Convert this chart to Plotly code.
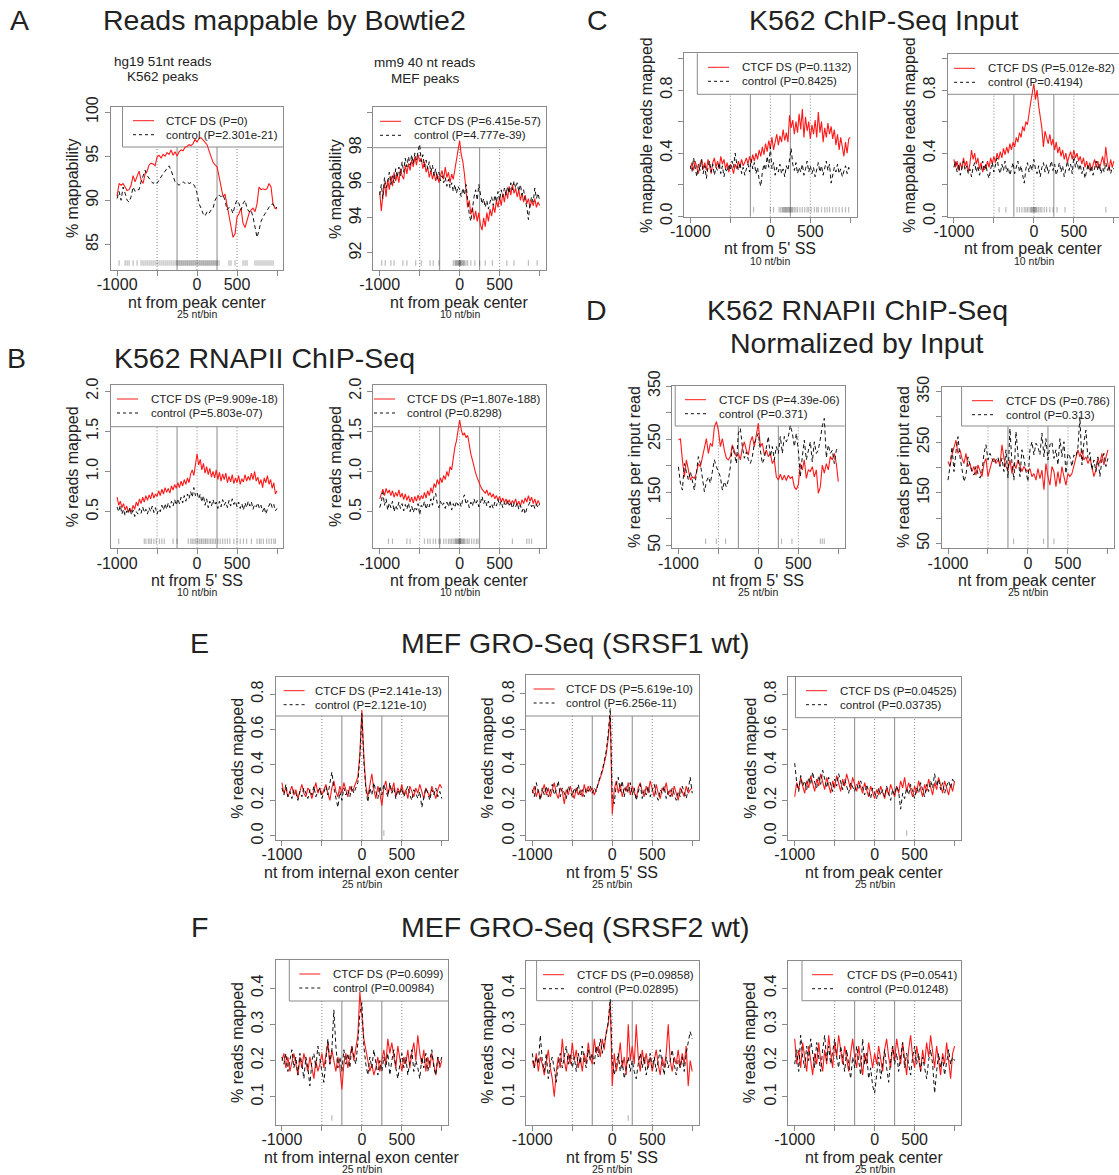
import plotly.graph_objects as go

W, H = 1119, 1175
FONT = "Liberation Sans, Arial, sans-serif"
INK = "#222222"
FRAME = "#8a8a8a"
RED = "#ff1a1a"

# bin centres (nt) for 25 nt/bin and 10 nt/bin profiles
BIN25 = list(range(-1000, 1001, 25))
BIN20 = list(range(-1000, 1001, 20))
X_TICKS = [-1000, -500, 0, 500, 1000]
X_TICKTEXT = ["-1000", "", "0", "500", ""]
SOLID_MARKS = [-250, 250]
DOTTED_MARKS = [-500, 0, 500]

# ---------------- A: mappability ----------------
A1_DS = [90.5, 91.9, 91.7, 91.9, 91.5, 91.1, 91.2, 91.7, 92.8, 92.1,
         92.7, 93.3, 92.3, 91.9, 93.0, 93.3, 94.0, 94.2, 94.1, 93.9,
         94.9, 95.1, 94.8, 95.2, 95.0, 95.4, 95.2, 95.7, 95.1, 95.5,
         95.0, 95.5, 95.7, 95.6, 96.0, 96.1, 96.3, 96.2, 96.4, 96.9,
         96.6, 97.0, 97.1, 96.8, 96.6, 96.3, 95.6, 94.9, 94.3, 94.0,
         93.8, 92.7, 91.3, 90.4, 90.7, 89.6, 88.1, 87.0, 85.8, 86.2,
         88.1, 88.5, 89.1, 87.4, 86.9, 87.8, 88.5, 88.9, 89.1, 88.7,
         89.6, 91.5, 91.2, 91.3, 91.2, 91.3, 91.9, 91.5, 89.6, 89.1,
         89.0]
A1_CTRL = [90.2, 91.0, 90.0, 91.5, 90.8, 90.0, 89.8, 90.4, 91.5, 91.0,
           91.2, 91.2, 92.1, 92.7, 93.4, 92.8, 92.5, 92.3, 91.9, 92.1,
           91.9, 92.3, 92.7, 93.0, 93.3, 93.6, 93.9, 93.4, 92.7, 92.1,
           91.9, 91.7, 91.9, 92.1, 91.9, 92.1, 91.9, 92.0, 91.9, 91.5,
           90.8, 89.6, 89.1, 88.5, 88.2, 88.7, 88.5, 88.9, 89.1, 90.0,
           90.4, 90.6, 90.4, 90.6, 90.0, 88.9, 89.2, 89.1, 88.5, 89.5,
           90.0, 89.6, 88.9, 89.6, 90.0, 89.1, 88.7, 88.9, 88.1, 87.0,
           85.8, 86.6, 87.6, 88.1, 88.5, 88.9, 89.2, 89.5, 89.6, 89.1,
           89.2]
A1_SITES = [-975, -900, -875, -850, -800, -750, -700, -675, -650, -625, -600,
            -575, -550, -525, -500, -475, -450, -425, -400, -375, -350, -325,
            -300, -275, -250, -250, -225, -225, -200, -200, -175, -175, -150,
            -150, -125, -125, -100, -100, -75, -75, -50, -50, -25, -25, 0, 0,
            25, 25, 50, 50, 75, 75, 100, 100, 125, 125, 150, 150, 175, 175,
            200, 200, 225, 225, 250, 250, 275, 400, 425, 475, 575, 600, 625,
            725, 750, 775, 800, 825, 850, 875, 900, 925, 950]

A2_DS = [95.5, 94.4, 95.3, 96.0, 95.2, 96.2, 95.6, 96.4, 95.8, 96.6,
         96.1, 96.5, 96.0, 96.8, 96.4, 96.2, 97.0, 96.5, 97.1, 96.7,
         97.3, 96.9, 97.5, 97.0, 97.6, 97.2, 97.4, 96.8, 97.2, 96.6,
         96.9, 96.3, 96.7, 96.2, 96.6, 96.1, 96.5, 96.0, 96.4, 96.7,
         96.2, 96.9, 96.3, 96.6, 96.0, 96.5, 96.2, 96.7, 97.2, 97.8,
         98.4, 97.6, 97.2, 96.5, 95.5, 94.6, 95.0, 94.2, 94.6, 93.9,
         94.4, 93.8, 94.3, 93.6, 93.3, 94.0, 93.5, 94.3, 93.8, 94.5,
         94.1, 94.7, 94.3, 95.0, 94.6, 95.2, 94.7, 95.4, 94.9, 95.6,
         95.1, 95.8, 95.3, 95.9, 95.4, 95.7, 95.2, 95.6, 95.0, 95.4,
         94.9, 95.3, 94.8, 95.1, 94.6, 95.0, 94.7, 95.1, 94.6, 94.9,
         94.7]
A2_CTRL = [95.3, 95.9, 95.1, 96.3, 95.7, 96.0, 96.6, 95.9, 96.4, 96.0,
           96.8, 96.3, 96.9, 96.4, 97.2, 96.6, 97.4, 96.9, 97.5, 97.0,
           97.6, 97.1, 97.7, 97.3, 97.8, 98.2, 97.2, 97.6, 96.9, 97.3,
           96.8, 97.2, 96.6, 97.0, 96.4, 96.8, 96.2, 96.6, 96.1, 96.4,
           96.0, 96.3, 95.8, 96.2, 95.7, 96.0, 95.5, 95.9, 95.4, 95.8,
           95.6, 95.2, 95.7, 95.3, 95.9, 95.1, 94.2, 93.8, 94.6, 95.2,
           95.6, 95.0, 95.9, 95.3, 94.8, 95.1, 94.6, 95.0, 94.5, 94.9,
           95.2, 94.7, 95.3, 94.9, 95.5, 95.0, 95.6, 95.2, 95.7, 95.3,
           95.8, 95.4, 96.0, 95.6, 96.1, 95.7, 96.0, 95.5, 95.9, 95.3,
           95.6, 95.0, 94.6, 93.9, 94.8, 95.2, 94.9, 95.7, 95.1, 95.4,
           95.0]
A2_SITES = [-975, -930, -860, -820, -710, -660, -550, -480, -370, -330, -260,
            -80, -60, -50, -40, -30, -20, -10, -10, 0, 0, 10, 10, 20, 30, 40,
            50, 60, 80, 100, 140, 190, 250, 320, 410, 590, 680, 860, 970]

# ---------------- B: RNAPII ChIP-Seq ----------------
B1_DS = [0.68, 0.58, 0.63, 0.55, 0.60, 0.52, 0.57, 0.49, 0.54, 0.50,
         0.58, 0.53, 0.62, 0.57, 0.66, 0.60, 0.68, 0.62, 0.70, 0.64,
         0.71, 0.66, 0.74, 0.67, 0.72, 0.69, 0.76, 0.70, 0.78, 0.72,
         0.80, 0.74, 0.79, 0.73, 0.82, 0.77, 0.84, 0.79, 0.86, 0.80,
         0.88, 0.82, 0.90, 0.84, 0.92, 0.86, 0.97, 1.02, 0.95, 1.10,
         1.22, 1.08, 1.15, 1.02, 1.10, 0.98, 1.06, 0.96, 1.04, 0.93,
         1.00, 0.92, 1.02, 0.90, 0.99, 0.88, 0.97, 0.90, 0.98, 0.86,
         0.94, 0.87, 0.96, 0.85, 0.92, 0.86, 0.95, 0.84, 0.91, 0.87,
         0.96, 0.88, 0.94, 0.89, 0.98, 0.90, 1.00, 0.88, 0.93, 0.84,
         0.90, 0.80, 0.92, 0.86, 0.95, 0.84, 0.90, 0.79, 0.86, 0.72,
         0.76]
B1_CTRL = [0.56, 0.50, 0.58, 0.47, 0.53, 0.45, 0.51, 0.48, 0.55, 0.46,
           0.52, 0.44, 0.50, 0.47, 0.54, 0.48, 0.56, 0.49, 0.53, 0.47,
           0.55, 0.50, 0.57, 0.49, 0.55, 0.47, 0.53, 0.50, 0.58, 0.52,
           0.60, 0.53, 0.61, 0.55, 0.63, 0.57, 0.65, 0.58, 0.66, 0.60,
           0.68, 0.61, 0.70, 0.63, 0.72, 0.66, 0.75, 0.68, 0.80, 0.70,
           0.74, 0.66, 0.72, 0.62, 0.70, 0.58, 0.66, 0.55, 0.63, 0.57,
           0.65, 0.58, 0.62, 0.54, 0.63, 0.56, 0.65, 0.58, 0.62, 0.55,
           0.64, 0.57, 0.66, 0.59, 0.63, 0.56, 0.62, 0.54, 0.60, 0.52,
           0.61, 0.55, 0.63, 0.57, 0.62, 0.53, 0.59, 0.56, 0.61, 0.54,
           0.58, 0.50, 0.56, 0.47, 0.53, 0.57, 0.62, 0.55, 0.59, 0.51,
           0.54]
B1_SITES = [-980, -660, -640, -610, -590, -570, -540, -510, -470, -440, -410,
            -300, -250, -110, -80, -60, -40, -20, 0, 10, 30, 50, 60, 80, 100,
            110, 130, 150, 170, 190, 210, 230, 260, 290, 320, 350, 380, 410,
            460, 500, 540, 580, 620, 680, 750, 780, 800, 830, 870, 900, 930,
            960, 980]

B2_DS = [0.66, 0.72, 0.78, 0.70, 0.79, 0.73, 0.77, 0.70, 0.76, 0.68,
         0.74, 0.69, 0.77, 0.68, 0.73, 0.65, 0.72, 0.64, 0.70, 0.62,
         0.68, 0.61, 0.69, 0.63, 0.71, 0.64, 0.70, 0.66, 0.74, 0.67,
         0.76, 0.70, 0.80, 0.73, 0.85, 0.80, 0.90, 0.84, 0.92, 0.86,
         0.95, 0.90, 1.00, 0.94, 1.06, 1.02, 1.18, 1.30, 1.38, 1.50,
         1.64, 1.52, 1.45, 1.48, 1.42, 1.45, 1.32, 1.22, 1.14, 1.05,
         0.98, 0.92, 0.86, 0.82, 0.78, 0.76, 0.73, 0.77, 0.70, 0.74,
         0.68, 0.72, 0.66, 0.70, 0.64, 0.69, 0.62, 0.67, 0.61, 0.66,
         0.60, 0.65, 0.59, 0.64, 0.60, 0.66, 0.58, 0.63, 0.57, 0.65,
         0.60, 0.67, 0.62, 0.70, 0.63, 0.68, 0.60, 0.66, 0.58, 0.64,
         0.60]
B2_CTRL = [0.55, 0.62, 0.74, 0.58, 0.66, 0.52, 0.61, 0.55, 0.63, 0.50,
           0.58, 0.53, 0.62, 0.54, 0.60, 0.51, 0.59, 0.53, 0.61, 0.50,
           0.57, 0.49, 0.56, 0.52, 0.60, 0.46, 0.58, 0.55, 0.63, 0.53,
           0.60, 0.56, 0.66, 0.58, 0.69, 0.73, 0.60, 0.55, 0.63, 0.57,
           0.61, 0.54, 0.62, 0.56, 0.64, 0.52, 0.60, 0.55, 0.63, 0.58,
           0.62, 0.56, 0.66, 0.71, 0.59, 0.64, 0.55, 0.62, 0.57, 0.66,
           0.59, 0.64, 0.56, 0.61, 0.69, 0.60, 0.65, 0.57, 0.63, 0.55,
           0.60, 0.54, 0.62, 0.57, 0.65, 0.58, 0.63, 0.55, 0.61, 0.57,
           0.64, 0.58, 0.62, 0.54, 0.60, 0.56, 0.61, 0.53, 0.58, 0.50,
           0.55, 0.47, 0.54, 0.58, 0.62, 0.56, 0.60, 0.54, 0.59, 0.55,
           0.60]
B2_SITES = [-890, -840, -660, -620, -440, -400, -370, -330, -300, -260, -240,
            -200, -170, -140, -120, -100, -80, -60, -50, -40, -30, -20, -10,
            -10, 0, 0, 10, 10, 20, 30, 40, 50, 60, 80, 100, 120, 150, 180,
            210, 230, 660, 840, 870, 900]

# ---------------- C: ChIP-Seq input ----------------
C1_DS = [0.30, 0.34, 0.29, 0.35, 0.31, 0.27, 0.33, 0.36, 0.30, 0.34,
         0.29, 0.36, 0.32, 0.27, 0.34, 0.37, 0.31, 0.35, 0.30, 0.38,
         0.33, 0.36, 0.30, 0.34, 0.28, 0.33, 0.31, 0.27, 0.33, 0.30,
         0.35, 0.31, 0.36, 0.32, 0.34, 0.37, 0.33, 0.38, 0.34, 0.39,
         0.35, 0.40, 0.36, 0.42, 0.38, 0.44, 0.39, 0.46, 0.41, 0.48,
         0.43, 0.50, 0.42, 0.47, 0.52, 0.45, 0.51, 0.47, 0.55, 0.48,
         0.53, 0.47, 0.64, 0.56, 0.61, 0.52, 0.60, 0.53, 0.65, 0.55,
         0.68, 0.50, 0.63, 0.54, 0.60, 0.49, 0.58, 0.52, 0.61, 0.50,
         0.66, 0.53, 0.60, 0.47, 0.56, 0.50, 0.59, 0.52, 0.57, 0.49,
         0.55, 0.45, 0.52, 0.42, 0.50, 0.44, 0.38, 0.47, 0.40, 0.49,
         0.50]
C1_CTRL = [0.32, 0.28, 0.37, 0.30, 0.25, 0.33, 0.29, 0.36, 0.27, 0.32,
           0.24, 0.31, 0.35, 0.28, 0.33, 0.26, 0.31, 0.29, 0.34, 0.27,
           0.32, 0.25, 0.30, 0.28, 0.33, 0.29, 0.35, 0.31, 0.40, 0.33,
           0.29, 0.34, 0.27, 0.31, 0.26, 0.30, 0.33, 0.28, 0.36, 0.30,
           0.34, 0.27, 0.31, 0.23, 0.19, 0.28, 0.33, 0.29, 0.38, 0.31,
           0.44, 0.30, 0.34, 0.26, 0.31, 0.28, 0.33, 0.27, 0.30, 0.25,
           0.32, 0.29, 0.36, 0.43, 0.33, 0.29, 0.34, 0.27, 0.31, 0.28,
           0.33, 0.26, 0.30, 0.35, 0.28, 0.32, 0.27, 0.31, 0.25, 0.30,
           0.34, 0.28, 0.32, 0.26, 0.30, 0.35, 0.29, 0.33, 0.21, 0.26,
           0.31, 0.28, 0.33, 0.27, 0.30, 0.25, 0.29, 0.32, 0.27, 0.31,
           0.29]
C1_SITES = [-210, 0, 40, 110, 130, 150, 160, 170, 180, 190, 200, 210, 220,
            230, 240, 250, 260, 270, 280, 300, 320, 340, 370, 400, 430, 460,
            480, 510, 550, 580, 600, 640, 680, 710, 740, 780, 820, 860, 900,
            940, 980]

C2_DS = [0.36, 0.31, 0.35, 0.29, 0.34, 0.30, 0.37, 0.32, 0.35, 0.28,
         0.33, 0.42, 0.36, 0.40, 0.33, 0.37, 0.30, 0.34, 0.28, 0.32,
         0.30, 0.35, 0.31, 0.37, 0.33, 0.38, 0.34, 0.40, 0.36, 0.41,
         0.37, 0.43, 0.39, 0.44, 0.40, 0.46, 0.42, 0.47, 0.44, 0.50,
         0.47, 0.53, 0.50, 0.57, 0.54, 0.60, 0.58, 0.66, 0.72, 0.78,
         0.84, 0.74, 0.80, 0.70, 0.62, 0.56, 0.44, 0.54, 0.50, 0.46,
         0.52, 0.45, 0.49, 0.42, 0.47, 0.40, 0.44, 0.38, 0.42, 0.36,
         0.40, 0.34, 0.38, 0.41, 0.36, 0.42, 0.37, 0.40, 0.35, 0.38,
         0.33, 0.37, 0.31, 0.35, 0.30, 0.34, 0.29, 0.33, 0.36, 0.31,
         0.35, 0.30, 0.34, 0.38, 0.32, 0.44, 0.35, 0.29, 0.36, 0.31,
         0.35]
C2_CTRL = [0.31, 0.35, 0.28, 0.33, 0.26, 0.31, 0.35, 0.29, 0.32, 0.27,
           0.30, 0.25, 0.31, 0.34, 0.28, 0.32, 0.26, 0.30, 0.35, 0.29,
           0.33, 0.27, 0.24, 0.30, 0.34, 0.28, 0.32, 0.37, 0.30, 0.27,
           0.33, 0.29, 0.35, 0.28, 0.31, 0.26, 0.30, 0.34, 0.27, 0.31,
           0.35, 0.28, 0.32, 0.26, 0.21, 0.30, 0.34, 0.28, 0.33, 0.29,
           0.36, 0.30, 0.27, 0.32, 0.25, 0.31, 0.34, 0.28, 0.33, 0.27,
           0.31, 0.35, 0.29, 0.33, 0.26, 0.30, 0.34, 0.28, 0.32, 0.25,
           0.30, 0.35, 0.29, 0.33, 0.27, 0.38, 0.31, 0.35, 0.29, 0.33,
           0.27, 0.31, 0.24, 0.29, 0.33, 0.28, 0.32, 0.26, 0.30, 0.35,
           0.29, 0.33, 0.27, 0.31, 0.28, 0.34, 0.29, 0.32, 0.27, 0.31,
           0.30]
C2_SITES = [-435, -350, -210, -180, -150, -120, -100, -80, -60, -40, -30,
            -20, -10, 0, 0, 10, 20, 30, 40, 60, 80, 100, 130, 160, 200, 240,
            290, 390, 900]

# ---------------- D: RNAPII normalised by input ----------------
D1_DS = [248, 251, 211, 179, 211, 192, 173, 179, 176, 186,
         204, 198, 214, 233, 251, 223, 242, 236, 273, 283,
         267, 236, 251, 229, 214, 211, 217, 239, 229, 217,
         223, 211, 233, 245, 229, 220, 245, 255, 236, 261,
         280, 236, 242, 220, 229, 217, 223, 204, 211, 179,
         173, 184, 173, 182, 172, 182, 176, 179, 160, 155,
         164, 204, 192, 211, 176, 192, 189, 198, 179, 192,
         148, 160, 201, 186, 204, 192, 217, 211, 223, 204,
         170]
D1_CTRL = [198, 167, 154, 204, 189, 173, 189, 170, 154, 186,
           217, 204, 179, 151, 170, 179, 167, 189, 211, 198,
           189, 179, 154, 170, 160, 173, 198, 236, 223, 204,
           261, 270, 236, 214, 226, 211, 204, 217, 242, 251,
           261, 229, 204, 214, 236, 255, 217, 236, 211, 236,
           223, 255, 223, 255, 245, 255, 276, 261, 236, 261,
           229, 179, 217, 248, 211, 229, 245, 207, 245, 223,
           230, 250, 275, 289, 215, 239, 223, 229, 204, 229,
           236]
D1_SITES = [-660, -525, -410, 290, 420, 775, 800, 825]

D2_DS = [212, 202, 225, 241, 254, 228, 235, 218, 208, 228,
         202, 208, 192, 202, 185, 205, 195, 182, 208, 218,
         182, 195, 212, 218, 208, 215, 205, 245, 218, 202,
         195, 215, 188, 208, 198, 215, 202, 192, 202, 195,
         192, 198, 182, 188, 175, 198, 178, 195, 156, 208,
         182, 165, 202, 192, 162, 192, 168, 202, 182, 165,
         188, 182, 188, 205, 221, 235, 221, 235, 215, 221,
         208, 218, 202, 182, 195, 218, 208, 228, 205, 218,
         235]
D2_CTRL = [175, 202, 241, 192, 231, 261, 221, 195, 172, 185,
           221, 205, 192, 185, 202, 188, 179, 192, 228, 245,
           215, 228, 218, 208, 215, 221, 202, 218, 192, 235,
           179, 277, 208, 175, 271, 221, 182, 235, 218, 192,
           172, 235, 251, 225, 248, 241, 225, 268, 221, 257,
           215, 245, 251, 218, 235, 205, 257, 221, 251, 188,
           228, 221, 202, 225, 221, 240, 300, 205, 250, 274,
           218, 230, 195, 215, 192, 221, 182, 215, 228, 202,
           218]
D2_SITES = [-180, 195, 325]

# ---------------- E: GRO-Seq, SRSF1 wt ----------------
E1_DS = [0.30, 0.24, 0.27, 0.22, 0.25, 0.28, 0.23, 0.26, 0.21, 0.25,
         0.29, 0.24, 0.22, 0.27, 0.25, 0.21, 0.26, 0.30, 0.24, 0.27,
         0.23, 0.26, 0.29, 0.24, 0.20, 0.27, 0.31, 0.25, 0.22, 0.28,
         0.24, 0.30, 0.26, 0.22, 0.28, 0.25, 0.27, 0.30, 0.33, 0.46,
         0.71, 0.45, 0.28, 0.22, 0.30, 0.35, 0.26, 0.21, 0.28, 0.24,
         0.17, 0.27, 0.31, 0.23, 0.28, 0.25, 0.30, 0.22, 0.27, 0.24,
         0.29, 0.23, 0.26, 0.21, 0.28, 0.25, 0.22, 0.27, 0.24, 0.29,
         0.25, 0.21, 0.27, 0.24, 0.22, 0.28, 0.25, 0.21, 0.26, 0.29,
         0.27]
E1_CTRL = [0.27, 0.23, 0.29, 0.22, 0.25, 0.21, 0.26, 0.24, 0.20, 0.25,
           0.22, 0.27, 0.24, 0.21, 0.26, 0.23, 0.28, 0.22, 0.25, 0.27,
           0.21, 0.24, 0.28, 0.23, 0.30, 0.36, 0.27, 0.22, 0.16, 0.25,
           0.20, 0.27, 0.23, 0.26, 0.22, 0.28, 0.24, 0.27, 0.30, 0.44,
           0.69, 0.42, 0.26, 0.19, 0.27, 0.23, 0.30, 0.25, 0.21, 0.28,
           0.23, 0.29, 0.26, 0.22, 0.30, 0.24, 0.27, 0.21, 0.26, 0.23,
           0.27, 0.22, 0.25, 0.28, 0.23, 0.20, 0.26, 0.24, 0.21, 0.25,
           0.16, 0.22, 0.27, 0.24, 0.20, 0.26, 0.23, 0.27, 0.22, 0.25,
           0.21]
E1_SITES = [275]

E2_DS = [0.24, 0.28, 0.22, 0.26, 0.21, 0.25, 0.29, 0.23, 0.27, 0.22,
         0.26, 0.30, 0.24, 0.21, 0.27, 0.25, 0.18, 0.26, 0.23, 0.28,
         0.24, 0.21, 0.27, 0.23, 0.26, 0.22, 0.29, 0.24, 0.28, 0.25,
         0.27, 0.23, 0.26, 0.29, 0.32, 0.36, 0.41, 0.46, 0.55, 0.68,
         0.12, 0.26, 0.31, 0.24, 0.29, 0.22, 0.27, 0.25, 0.30, 0.23,
         0.28, 0.24, 0.21, 0.27, 0.30, 0.25, 0.22, 0.28, 0.24, 0.31,
         0.26, 0.22, 0.29, 0.24, 0.21, 0.27, 0.25, 0.30, 0.23, 0.26,
         0.22, 0.28, 0.24, 0.20, 0.27, 0.25, 0.22, 0.28, 0.24, 0.26,
         0.27]
E2_CTRL = [0.26, 0.22, 0.30, 0.24, 0.20, 0.27, 0.23, 0.28, 0.22, 0.25,
           0.29, 0.23, 0.26, 0.31, 0.22, 0.27, 0.24, 0.21, 0.28, 0.25,
           0.22, 0.27, 0.24, 0.29, 0.23, 0.26, 0.22, 0.27, 0.25, 0.28,
           0.24, 0.27, 0.25, 0.30, 0.33, 0.37, 0.42, 0.48, 0.58, 0.72,
           0.21, 0.18, 0.29, 0.33, 0.25, 0.31, 0.22, 0.28, 0.24, 0.30,
           0.23, 0.27, 0.20, 0.25, 0.29, 0.21, 0.26, 0.23, 0.28, 0.22,
           0.25, 0.29, 0.23, 0.20, 0.26, 0.24, 0.28, 0.21, 0.25, 0.22,
           0.27, 0.23, 0.20, 0.25, 0.22, 0.28, 0.24, 0.21, 0.26, 0.33,
           0.24]
E2_SITES = []

E3_DS = [0.22, 0.30, 0.26, 0.33, 0.28, 0.24, 0.31, 0.27, 0.34, 0.29,
         0.25, 0.32, 0.28, 0.35, 0.30, 0.26, 0.33, 0.29, 0.24, 0.31,
         0.27, 0.34, 0.29, 0.25, 0.32, 0.28, 0.35, 0.30, 0.26, 0.33,
         0.29, 0.25, 0.31, 0.27, 0.24, 0.30, 0.26, 0.22, 0.28, 0.25,
         0.21, 0.26, 0.23, 0.28, 0.24, 0.21, 0.27, 0.23, 0.29, 0.25,
         0.22, 0.28, 0.24, 0.31, 0.27, 0.33, 0.25, 0.30, 0.26, 0.22,
         0.28, 0.24, 0.31, 0.26, 0.22, 0.29, 0.25, 0.32, 0.27, 0.23,
         0.30, 0.26, 0.33, 0.28, 0.24, 0.31, 0.27, 0.23, 0.29, 0.25,
         0.31]
E3_CTRL = [0.41, 0.30, 0.25, 0.34, 0.28, 0.31, 0.26, 0.33, 0.29, 0.36,
           0.30, 0.27, 0.34, 0.29, 0.37, 0.31, 0.27, 0.33, 0.29, 0.25,
           0.32, 0.28, 0.35, 0.30, 0.26, 0.32, 0.28, 0.24, 0.30, 0.27,
           0.25, 0.29, 0.26, 0.31, 0.27, 0.23, 0.29, 0.25, 0.21, 0.27,
           0.24, 0.21, 0.27, 0.23, 0.26, 0.22, 0.28, 0.24, 0.20, 0.26,
           0.23, 0.28, 0.25, 0.15, 0.24, 0.21, 0.27, 0.23, 0.29, 0.25,
           0.21, 0.27, 0.24, 0.30, 0.26, 0.22, 0.29, 0.25, 0.31, 0.27,
           0.35, 0.28, 0.32, 0.26, 0.30, 0.24, 0.28, 0.31, 0.27, 0.32,
           0.29]
E3_SITES = [400]

# ---------------- F: GRO-Seq, SRSF2 wt ----------------
F1_DS = [0.20, 0.22, 0.18, 0.21, 0.17, 0.20, 0.22, 0.19, 0.16, 0.21,
         0.18, 0.22, 0.19, 0.17, 0.21, 0.18, 0.15, 0.20, 0.17, 0.19,
         0.22, 0.18, 0.21, 0.25, 0.19, 0.23, 0.20, 0.17, 0.21, 0.18,
         0.12, 0.19, 0.22, 0.18, 0.21, 0.24, 0.20, 0.23, 0.27, 0.39,
         0.31, 0.26, 0.23, 0.20, 0.17, 0.19, 0.16, 0.18, 0.21, 0.17,
         0.20, 0.23, 0.19, 0.26, 0.22, 0.25, 0.21, 0.18, 0.24, 0.20,
         0.17, 0.21, 0.19, 0.23, 0.18, 0.22, 0.25, 0.20, 0.27, 0.22,
         0.19, 0.23, 0.17, 0.21, 0.18, 0.22, 0.19, 0.16, 0.21, 0.18,
         0.20]
F1_CTRL = [0.21, 0.19, 0.22, 0.17, 0.20, 0.23, 0.18, 0.21, 0.16, 0.22,
           0.19, 0.15, 0.21, 0.18, 0.13, 0.20, 0.22, 0.18, 0.24, 0.20,
           0.17, 0.14, 0.21, 0.26, 0.19, 0.23, 0.34, 0.24, 0.18, 0.21,
           0.17, 0.23, 0.19, 0.22, 0.18, 0.24, 0.21, 0.19, 0.25, 0.33,
           0.36, 0.24, 0.19, 0.16, 0.21, 0.18, 0.23, 0.19, 0.16, 0.20,
           0.17, 0.21, 0.18, 0.22, 0.16, 0.20, 0.23, 0.18, 0.15, 0.19,
           0.22, 0.18, 0.21, 0.16, 0.19, 0.23, 0.17, 0.20, 0.18, 0.15,
           0.21, 0.18, 0.22, 0.17, 0.20, 0.23, 0.18, 0.16, 0.21, 0.19,
           0.21]
F1_SITES = [-375]

F2_DS = [0.20, 0.18, 0.22, 0.17, 0.21, 0.19, 0.16, 0.20, 0.23, 0.18,
         0.15, 0.10, 0.17, 0.21, 0.18, 0.26, 0.20, 0.17, 0.22, 0.19,
         0.25, 0.20, 0.23, 0.18, 0.21, 0.17, 0.22, 0.19, 0.25, 0.21,
         0.19, 0.26, 0.22, 0.24, 0.21, 0.26, 0.23, 0.28, 0.30, 0.36,
         0.13, 0.22, 0.17, 0.20, 0.25, 0.18, 0.21, 0.16, 0.30, 0.20,
         0.24, 0.19, 0.30, 0.21, 0.17, 0.23, 0.19, 0.22, 0.18, 0.21,
         0.17, 0.20, 0.23, 0.19, 0.16, 0.21, 0.18, 0.22, 0.30, 0.20,
         0.17, 0.21, 0.19, 0.23, 0.18, 0.22, 0.19, 0.24, 0.13, 0.20,
         0.17]
F2_CTRL = [0.22, 0.18, 0.21, 0.19, 0.27, 0.20, 0.17, 0.22, 0.15, 0.19,
           0.21, 0.17, 0.14, 0.19, 0.22, 0.18, 0.21, 0.24, 0.19, 0.22,
           0.18, 0.21, 0.17, 0.22, 0.19, 0.24, 0.20, 0.18, 0.23, 0.20,
           0.22, 0.19, 0.24, 0.21, 0.26, 0.22, 0.25, 0.27, 0.31, 0.37,
           0.20, 0.16, 0.19, 0.22, 0.17, 0.20, 0.15, 0.18, 0.21, 0.17,
           0.20, 0.17, 0.15, 0.19, 0.22, 0.18, 0.21, 0.16, 0.19, 0.22,
           0.18, 0.21, 0.17, 0.20, 0.23, 0.19, 0.16, 0.21, 0.18, 0.20,
           0.23, 0.19, 0.16, 0.20, 0.18, 0.21, 0.17, 0.22, 0.25, 0.28,
           0.26]
F2_SITES = [200]

F3_DS = [0.26, 0.19, 0.23, 0.18, 0.25, 0.21, 0.17, 0.24, 0.20, 0.16,
         0.22, 0.19, 0.25, 0.20, 0.17, 0.23, 0.19, 0.27, 0.22, 0.18,
         0.25, 0.21, 0.27, 0.23, 0.19, 0.24, 0.20, 0.17, 0.22, 0.26,
         0.21, 0.18, 0.24, 0.20, 0.16, 0.22, 0.19, 0.25, 0.21, 0.18,
         0.22, 0.19, 0.24, 0.20, 0.17, 0.23, 0.26, 0.21, 0.18, 0.24,
         0.20, 0.26, 0.22, 0.19, 0.25, 0.21, 0.16, 0.23, 0.27, 0.21,
         0.18, 0.24, 0.20, 0.17, 0.23, 0.19, 0.25, 0.21, 0.27, 0.22,
         0.18, 0.24, 0.20, 0.16, 0.22, 0.19, 0.25, 0.20, 0.15, 0.22,
         0.24]
F3_CTRL = [0.19, 0.23, 0.17, 0.27, 0.21, 0.18, 0.24, 0.20, 0.26, 0.22,
           0.18, 0.25, 0.21, 0.17, 0.23, 0.27, 0.20, 0.24, 0.19, 0.22,
           0.26, 0.21, 0.18, 0.24, 0.20, 0.17, 0.23, 0.19, 0.15, 0.21,
           0.18, 0.24, 0.20, 0.16, 0.26, 0.19, 0.22, 0.15, 0.18, 0.13,
           0.11, 0.17, 0.21, 0.15, 0.19, 0.23, 0.18, 0.14, 0.20, 0.24,
           0.19, 0.22, 0.17, 0.21, 0.25, 0.18, 0.22, 0.19, 0.16, 0.21,
           0.24, 0.19, 0.22, 0.17, 0.21, 0.18, 0.15, 0.20, 0.23, 0.19,
           0.11, 0.17, 0.22, 0.18, 0.21, 0.16, 0.20, 0.23, 0.19, 0.21,
           0.20]
F3_SITES = []

# y-axis tick sets
YT_A1 = ([85, 90, 95, 100], ["85", "90", "95", "100"])
YT_A2 = ([92, 94, 96, 98, 100], ["92", "94", "96", "98", ""])
YT_B = ([0.5, 1.0, 1.5, 2.0], ["0.5", "1.0", "1.5", "2.0"])
YT_C = ([0, 0.2, 0.4, 0.6, 0.8, 1.0], ["0.0", "", "0.4", "", "0.8", ""])
YT_D = ([50, 100, 150, 200, 250, 300, 350], ["50", "", "150", "", "250", "", "350"])
YT_E = ([0, 0.2, 0.4, 0.6, 0.8], ["0.0", "0.2", "0.4", "0.6", "0.8"])
YT_F = ([0.1, 0.2, 0.3, 0.4], ["0.1", "0.2", "0.3", "0.4"])

PEAK = "nt from peak center"
SS5 = "nt from 5' SS"
EXON = "nt from internal exon center"

# layout of each panel in page pixels: box = (left, top, bottom);
# legend = (left border or None, bottom, sample start, text start)
PANELS = [
    dict(x=BIN25, ds=A1_DS, ctrl=A1_CTRL, sites=A1_SITES, box=(110.7, 106.7, 270.0),
         yr=(82.1, 100.6), yt=YT_A1, ytitle="% mappability", xtitle=PEAK, bins="25 nt/bin",
         leg=(122.5, 147.0, 133.0, 164.0), lab=("CTCF DS (P=0)", "control (P=2.301e-21)")),
    dict(x=BIN20, ds=A2_DS, ctrl=A2_CTRL, sites=A2_SITES, box=(373.3, 107.3, 270.0),
         yr=(91.03, 100.3), yt=YT_A2, ytitle="% mappability", xtitle=PEAK, bins="10 nt/bin",
         leg=(None, 147.7, 380.0, 411.7), lab=("CTCF DS (P=6.415e-57)", "control (P=4.777e-39)")),
    dict(x=BIN20, ds=B1_DS, ctrl=B1_CTRL, sites=B1_SITES, box=(110.7, 385.0, 548.3),
         yr=(0.045, 2.075), yt=YT_B, ytitle="% reads mapped", xtitle=SS5, bins="10 nt/bin",
         leg=(None, 426.7, 117.0, 149.0), lab=("CTCF DS (P=9.909e-18)", "control (P=5.803e-07)")),
    dict(x=BIN20, ds=B2_DS, ctrl=B2_CTRL, sites=B2_SITES, box=(373.3, 385.0, 548.3),
         yr=(0.045, 2.075), yt=YT_B, ytitle="% reads mapped", xtitle=PEAK, bins="10 nt/bin",
         leg=(None, 426.7, 374.0, 405.0), lab=("CTCF DS (P=1.807e-188)", "control (P=0.8298)")),
    dict(x=BIN20, ds=C1_DS, ctrl=C1_CTRL, sites=C1_SITES, box=(684.0, 53.3, 216.7),
         yr=(-0.003, 1.033), yt=YT_C, ytitle="% mappable reads mapped", xtitle=SS5, bins="10 nt/bin",
         leg=(697.3, 94.3, 708.0, 740.0), lab=("CTCF DS (P=0.1132)", "control (P=0.8425)")),
    dict(x=BIN20, ds=C2_DS, ctrl=C2_CTRL, sites=C2_SITES, box=(947.5, 54.3, 216.7),
         yr=(-0.003, 1.027), yt=YT_C, ytitle="% mappable reads mapped", xtitle=PEAK, bins="10 nt/bin",
         leg=(None, 94.3, 954.0, 986.0), lab=("CTCF DS (P=5.012e-82)", "control (P=0.4194)")),
    dict(x=BIN25, ds=D1_DS, ctrl=D1_CTRL, sites=D1_SITES, box=(672.0, 385.7, 548.3),
         yr=(44.4, 350.6), yt=YT_D, ytitle="% reads per input read", xtitle=SS5, bins="25 nt/bin",
         leg=(675.2, 426.0, 685.0, 717.5), lab=("CTCF DS (P=4.39e-06)", "control (P=0.371)")),
    dict(x=BIN25, ds=D2_DS, ctrl=D2_CTRL, sites=D2_SITES, box=(941.6, 386.7, 548.3),
         yr=(40.1, 359.9), yt=YT_D, ytitle="% reads per input read", xtitle=PEAK, bins="25 nt/bin",
         leg=(961.6, 426.0, 972.0, 1003.5), lab=("CTCF DS (P=0.786)", "control (P=0.313)")),
    dict(x=BIN25, ds=E1_DS, ctrl=E1_CTRL, sites=E1_SITES, box=(275.5, 676.7, 840.0),
         yr=(-0.024, 0.898), yt=YT_E, ytitle="% reads mapped", xtitle=EXON, bins="25 nt/bin",
         leg=(None, 716.0, 283.6, 313.0), lab=("CTCF DS (P=2.141e-13)", "control (P=2.121e-10)")),
    dict(x=BIN25, ds=E2_DS, ctrl=E2_CTRL, sites=E2_SITES, box=(525.9, 675.0, 840.0),
         yr=(-0.024, 0.907), yt=YT_E, ytitle="% reads mapped", xtitle=SS5, bins="25 nt/bin",
         leg=(None, 716.0, 533.6, 564.4), lab=("CTCF DS (P=5.619e-10)", "control (P=6.256e-11)")),
    dict(x=BIN25, ds=E3_DS, ctrl=E3_CTRL, sites=E3_SITES, box=(788.3, 676.7, 840.0),
         yr=(-0.024, 0.898), yt=YT_E, ytitle="% reads mapped", xtitle=PEAK, bins="25 nt/bin",
         leg=(795.5, 717.7, 806.0, 837.5), lab=("CTCF DS (P=0.04525)", "control (P=0.03735)")),
    dict(x=BIN25, ds=F1_DS, ctrl=F1_CTRL, sites=F1_SITES, box=(275.5, 960.0, 1125.0),
         yr=(0.022, 0.478), yt=YT_F, ytitle="% reads mapped", xtitle=EXON, bins="25 nt/bin",
         leg=(289.3, 1001.0, 299.3, 330.7), lab=("CTCF DS (P=0.6099)", "control (P=0.00984)")),
    dict(x=BIN25, ds=F2_DS, ctrl=F2_CTRL, sites=F2_SITES, box=(525.9, 960.7, 1125.0),
         yr=(0.022, 0.476), yt=YT_F, ytitle="% reads mapped", xtitle=SS5, bins="25 nt/bin",
         leg=(536.6, 1000.7, 543.0, 575.0), lab=("CTCF DS (P=0.09858)", "control (P=0.02895)")),
    dict(x=BIN25, ds=F3_DS, ctrl=F3_CTRL, sites=F3_SITES, box=(788.3, 960.7, 1125.0),
         yr=(0.022, 0.476), yt=YT_F, ytitle="% reads mapped", xtitle=PEAK, bins="25 nt/bin",
         leg=(802.0, 1000.7, 812.0, 844.6), lab=("CTCF DS (P=0.0541)", "control (P=0.01248)")),
]

# section headings: (text, centre x, centre y)
HEADINGS = [
    ("A", 19.6, 20.0), ("Reads mappable by Bowtie2", 284.0, 20.0),
    ("C", 597.4, 20.0), ("K562 ChIP-Seq Input", 883.5, 20.0),
    ("B", 16.0, 358.0), ("K562 RNAPII ChIP-Seq", 264.0, 358.0),
    ("D", 596.5, 310.0), ("K562 RNAPII ChIP-Seq", 857.0, 310.0),
    ("Normalized by Input", 857.0, 343.3),
    ("E", 199.0, 643.0), ("MEF GRO-Seq (SRSF1 wt)", 575.0, 643.0),
    ("F", 199.0, 926.7), ("MEF GRO-Seq (SRSF2 wt)", 575.0, 926.7),
]
SUBHEADINGS = [
    ("hg19 51nt reads", 162.5, 61.0), ("K562 peaks", 162.5, 76.3),
    ("mm9 40 nt reads", 425.0, 62.7), ("MEF peaks", 425.0, 78.3),
]

BOX_W = 172.7
X_LO = -1080.0
PX_PER_NT = BOX_W / 2160.0


def px(xp):
    return xp / W


def py(yp):
    return 1.0 - yp / H


fig = go.Figure()
shapes, notes = [], []
layout = {}

for i, p in enumerate(PANELS, start=1):
    assert len(p["ds"]) == len(p["x"]) and len(p["ctrl"]) == len(p["x"])
    left, top, bottom = p["box"]
    right = min(left + BOX_W, W)
    x_hi = X_LO + (right - left) / PX_PER_NT
    xa, ya = f"x{i}", f"y{i}"
    sfx = "" if i == 1 else str(i)
    tick_font = dict(family=FONT, size=16, color=INK)

    layout[f"xaxis{sfx}"] = dict(
        domain=[px(left), px(right)], range=[X_LO, x_hi], anchor=ya,
        tickmode="array", tickvals=X_TICKS, ticktext=X_TICKTEXT,
        ticks="outside", ticklen=5, tickwidth=1, tickcolor=FRAME,
        showline=True, linecolor=FRAME, linewidth=1, mirror=True,
        showgrid=False, zeroline=False, tickfont=tick_font,
        ticklabelstandoff=-5, automargin=False, fixedrange=True)
    layout[f"yaxis{sfx}"] = dict(
        domain=[py(bottom), py(top)], range=list(p["yr"]), anchor=xa,
        tickmode="array", tickvals=p["yt"][0], ticktext=p["yt"][1],
        ticks="outside", ticklen=5, tickwidth=1, tickcolor=FRAME,
        showline=True, linecolor=FRAME, linewidth=1, mirror=True,
        showgrid=False, zeroline=False, tickfont=tick_font, tickangle=-90,
        ticklabelstandoff=0, automargin=False, fixedrange=True)

    # site rug along the bottom of the panel
    if p["sites"]:
        y_lo, y_hi = p["yr"]
        rug_y = y_lo + (y_hi - y_lo) * 7.0 / (bottom - top)
        fig.add_trace(go.Scatter(
            x=p["sites"], y=[rug_y] * len(p["sites"]), xaxis=xa, yaxis=ya,
            mode="markers", showlegend=False, hoverinfo="skip",
            marker=dict(symbol="line-ns", size=4,
                        line=dict(width=1.2, color="rgba(60,60,60,0.35)"))))

    # profiles
    fig.add_trace(go.Scatter(x=p["x"], y=p["ds"], xaxis=xa, yaxis=ya, mode="lines",
                             line=dict(color=RED, width=1.1), showlegend=False,
                             name="CTCF DS"))
    fig.add_trace(go.Scatter(x=p["x"], y=p["ctrl"], xaxis=xa, yaxis=ya, mode="lines",
                             line=dict(color="#111111", width=1, dash="4px,3px"),
                             showlegend=False, name="control"))

    leg_left, leg_bottom, samp_x, text_x = p["leg"]

    # reference positions: dotted at -500/0/500, solid at +-250
    for v in DOTTED_MARKS + SOLID_MARKS:
        shapes.append(dict(type="line", xref=xa, yref="paper", x0=v, x1=v,
                           y0=py(bottom), y1=py(leg_bottom), layer="below",
                           line=dict(color=FRAME, width=1,
                                     dash="solid" if v in SOLID_MARKS else "1px,2px")))

    # legend frame
    frame_left = leg_left if leg_left is not None else left
    shapes.append(dict(type="line", xref="paper", yref="paper",
                       x0=px(frame_left), x1=px(right), y0=py(leg_bottom), y1=py(leg_bottom),
                       layer="below", line=dict(color=FRAME, width=1)))
    if leg_left is not None:
        shapes.append(dict(type="line", xref="paper", yref="paper",
                           x0=px(leg_left), x1=px(leg_left), y0=py(leg_bottom), y1=py(top),
                           layer="below", line=dict(color=FRAME, width=1)))
    for row, (lab, col, dash) in enumerate(zip(p["lab"], (RED, "#111111"),
                                               ("solid", "3px,3px"))):
        yrow = top + 14.0 + 14.0 * row
        shapes.append(dict(type="line", xref="paper", yref="paper",
                           x0=px(samp_x), x1=px(samp_x + 21.0), y0=py(yrow), y1=py(yrow),
                           line=dict(color=col, width=1, dash=dash)))
        notes.append(dict(text=lab, x=px(text_x), y=py(yrow), xanchor="left",
                          yanchor="middle", font=dict(family=FONT, size=11.5, color=INK)))

    # axis titles
    xc = px(left + (0.0 - X_LO) * PX_PER_NT)
    notes.append(dict(text=p["xtitle"], x=xc, y=py(bottom + 32.0), xanchor="center",
                      yanchor="middle", font=dict(family=FONT, size=16, color=INK)))
    notes.append(dict(text=p["bins"], x=xc, y=py(bottom + 44.0), xanchor="center",
                      yanchor="middle", font=dict(family=FONT, size=10.5, color=INK)))
    notes.append(dict(text=p["ytitle"], x=px(left - 38.0), y=py((top + bottom) / 2),
                      xanchor="center", yanchor="middle", textangle=-90,
                      font=dict(family=FONT, size=16, color=INK)))

for text, cx, cy in HEADINGS:
    notes.append(dict(text=text, x=px(cx), y=py(cy), xanchor="center", yanchor="middle",
                      font=dict(family=FONT, size=28.5, color=INK)))
for text, cx, cy in SUBHEADINGS:
    notes.append(dict(text=text, x=px(cx), y=py(cy), xanchor="center", yanchor="middle",
                      font=dict(family=FONT, size=13.5, color=INK)))

for n in notes:
    n.update(xref="paper", yref="paper", showarrow=False)

fig.update_layout(
    width=W, height=H,
    margin=dict(l=0, r=0, t=0, b=0, pad=0, autoexpand=False),
    paper_bgcolor="white", plot_bgcolor="white", showlegend=False,
    font=dict(family=FONT, color=INK), shapes=shapes, annotations=notes,
    **layout)

fig.write_html("out.html", config=dict(displayModeBar=False))
